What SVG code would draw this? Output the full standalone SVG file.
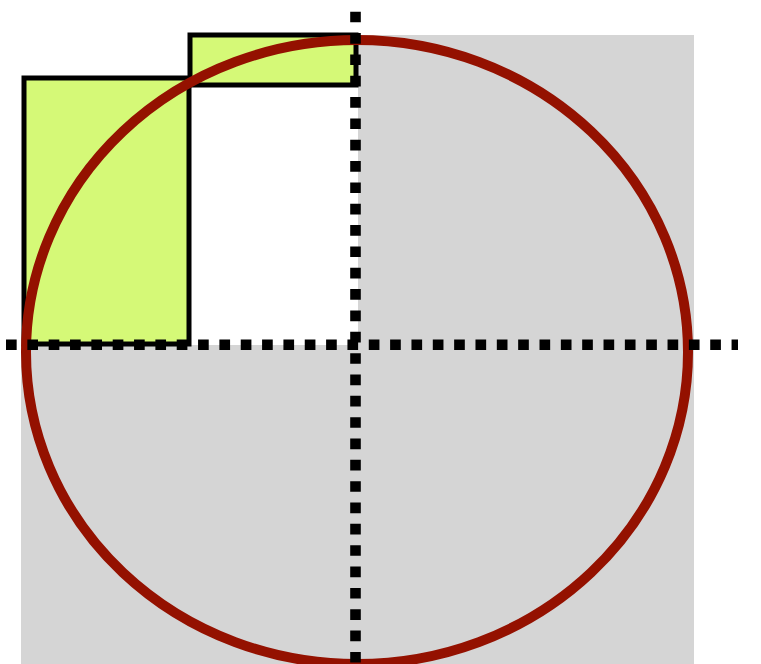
<svg xmlns="http://www.w3.org/2000/svg" width="761" height="664" viewBox="0 0 761 664">
<style>
.bg{fill:#d5d5d5;stroke:none}
.box{fill:#d5f977;stroke:#000;stroke-width:5}
.ring{fill:none;stroke:#941100;stroke-width:10}
.axis{stroke:#000;stroke-width:10.6;stroke-dasharray:10.67 10.67;fill:none}
</style>
<rect width="761" height="664" fill="#fff"/>
<g id="background">
<path class="bg" d="M358 35 H694 V664 H21 V345 H358 Z"/>
</g>
<g id="box-left"><rect class="box" x="24" y="78" width="165" height="266"/></g>
<g id="box-top"><rect class="box" x="190" y="35" width="166" height="50"/></g>
<g id="ellipse"><ellipse class="ring" cx="357" cy="352" rx="331" ry="312"/></g>
<g id="connectors">
<line class="axis" x1="6" y1="344.7" x2="738" y2="344.7"/>
<line class="axis" x1="355.5" y1="11.7" x2="355.5" y2="664"/>
</g>
</svg>
